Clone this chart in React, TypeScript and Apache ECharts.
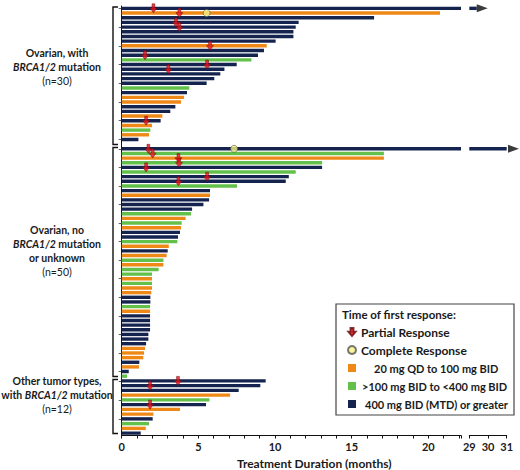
import React, { useEffect, useRef } from 'react';
import * as echarts from 'echarts';

// ---------- data ----------
const DOSE_LABELS = ['20 mg QD to 100 mg BID', '>100 mg BID to <400 mg BID', '400 mg BID (MTD) or greater'];
const DOSE_COLORS = ['#ee8918', '#63c04a', '#15244e'];
const RESPONSE_LABELS = ['Partial Response', 'Complete Response'];

const groupLabels = [
  'Ovarian, with\n{i|BRCA1/2} mutation\n{n|(n=30)}',
  'Ovarian, no\n{i|BRCA1/2} mutation\nor unknown\n{n|(n=50)}',
  'Other tumor types,\nwith {i|BRCA1/2} mutation\n{n|(n=12)}',
];

// dose index: 0 = 20mg QD-100mg BID, 1 = >100 to <400 mg BID, 2 = 400 mg BID or greater
const g1Duration = [29.4, 20.76, 16.46, 11.54, 11.35, 11.2, 11.2, 10.04, 9.46, 9.28, 8.89, 8.46, 7.5, 6.7, 6.43, 6.04, 5.54, 4.41, 4.26, 4.07, 3.87, 3.5, 3.17, 2.65, 2.54, 1.98, 1.87, 1.78, 1.09, 0];
const g1Dose = [2, 0, 2, 2, 2, 2, 2, 2, 0, 2, 2, 1, 2, 2, 2, 2, 2, 1, 2, 0, 0, 2, 2, 0, 2, 0, 1, 0, 2, 2];
const g1Partial = [2.07, 3.76, null, 3.54, 3.76, null, null, null, 5.76, null, 1.52, null, 5.57, 3.04, null, null, null, null, null, null, null, null, null, null, 1.59, null, null, null, null, null];
const g1Complete = [null, 5.54];
const g1Ongoing = [true];

const g2Duration = [31.07, 17.1, 17.1, 13.07, 13.07, 11.35, 10.9, 10.7, 7.52, 5.76, 5.76, 5.7, 5.33, 4.59, 4.52, 4.17, 3.91, 3.87, 3.8, 3.67, 3.63, 3.07, 3.0, 2.93, 2.72, 2.72, 2.41, 1.98, 1.98, 1.98, 1.98, 1.93, 1.87, 1.87, 1.85, 1.85, 1.85, 1.85, 1.85, 1.85, 1.74, 1.74, 1.59, 1.52, 1.46, 1.41, 1.15, 1.13, 0.46, 0.35];
const g2Dose = [2, 1, 0, 1, 2, 1, 2, 2, 1, 2, 0, 2, 2, 2, 1, 0, 1, 0, 2, 2, 1, 0, 2, 0, 1, 0, 1, 1, 0, 1, 0, 0, 2, 2, 1, 0, 2, 2, 2, 2, 2, 2, 2, 0, 0, 0, 2, 0, 2, 1];
const g2Partial = [1.74, 2.02, 3.7, 3.74, 1.59, null, 5.57, 3.7];
const g2Complete = [7.33];
const g2Ongoing = [true];

const g3Duration = [9.39, 9.04, 7.63, 7.07, 5.72, 5.5, 3.8, 2.07, 2.02, 1.78, 1.57, 1.24];
const g3Dose = [2, 2, 2, 0, 1, 2, 0, 0, 2, 1, 0, 2];
const g3Partial = [3.67, 1.85, null, null, null, 1.85];
const g3Complete: (number | null)[] = [];
const g3Ongoing: boolean[] = [];

const xTicksLeft = [0, 5, 10, 15, 20];
const xTicksRight = [29, 30, 31];

// ---------- layout ----------
const FONT = 'Lato, "Open Sans", sans-serif';
const X0 = 121.7;
const BREAK_L = 461;
const BREAK_R = 469.3;
const X_END = 506.7;
const LEFT_MAX = 22.13;
const RIGHT_MIN = 29;
const RIGHT_MAX = 31;
const GROUP_BOUNDS: [number, number][] = [[6, 146.5], [146.5, 378.5], [378.5, 435.5]];
const GROUP_TEXT_Y = [67, 251, 395];

const groups = [
  { duration: g1Duration, dose: g1Dose, partial: g1Partial, complete: g1Complete, ongoing: g1Ongoing },
  { duration: g2Duration, dose: g2Dose, partial: g2Partial, complete: g2Complete, ongoing: g2Ongoing },
  { duration: g3Duration, dose: g3Dose, partial: g3Partial, complete: g3Complete, ongoing: g3Ongoing },
];

const ARROW_DOWN = 'path://M3,0 L7,0 L7,5 L10,5 L5,11 L0,5 L3,5 Z';
const ARROW_RIGHT = 'path://M0,0 L12,4.5 L0,9 Z';

function buildOption() {
  const grid: any[] = [];
  const xAxis: any[] = [];
  const yAxis: any[] = [];
  const series: any[] = [];
  const graphic: any[] = [];

  groups.forEach((g, gi) => {
    const [top, bottom] = GROUP_BOUNDS[gi];
    const isBottom = gi === groups.length - 1;
    const cats = g.duration.map((_, i) => `P${gi + 1}-${i + 1}`);
    for (let s = 0; s < 2; s++) {
      const idx = gi * 2 + s;
      const left = s === 0 ? X0 : BREAK_R;
      const right = s === 0 ? BREAK_L : X_END;
      grid.push({ left, top, width: right - left, height: bottom - top, outerBoundsMode: 'none', containLabel: false });
      xAxis.push({
        type: 'value',
        gridIndex: idx,
        min: s === 0 ? 0 : RIGHT_MIN,
        max: s === 0 ? LEFT_MAX : RIGHT_MAX,
        interval: 1,
        show: isBottom,
        splitLine: { show: false },
        axisLine: { show: true, lineStyle: { color: '#111', width: 1 } },
        axisTick: { show: true, length: 3, lineStyle: { color: '#111', width: 1 } },
        axisLabel: {
          color: '#1a1a1a',
          fontFamily: FONT,
          fontWeight: 'bold',
          fontSize: 11,
          margin: 5,
          lineHeight: 12,
          showMaxLabel: true,
          showMinLabel: true,
          formatter: (v: number) => {
            const list = s === 0 ? xTicksLeft : xTicksRight;
            return list.includes(Math.round(v * 1000) / 1000) ? String(v) : '';
          },
        },
      });
      yAxis.push({
        type: 'category',
        gridIndex: idx,
        data: cats,
        inverse: true,
        show: s === 0,
        axisLine: { show: true, lineStyle: { color: '#111', width: 1 } },
        axisTick: { show: true, alignWithLabel: true, length: 3, lineStyle: { color: '#333', width: 0.8 } },
        axisLabel: { show: false },
        splitLine: { show: false },
      });

      for (let d = 0; d < 3; d++) {
        series.push({
          type: 'bar',
          name: DOSE_LABELS[d],
          xAxisIndex: idx,
          yAxisIndex: idx,
          barWidth: 3.4,
          barGap: '-100%',
          clip: true,
          silent: true,
          itemStyle: { color: DOSE_COLORS[d] },
          data: g.duration.map((v, i) => (g.dose[i] === d && (s === 0 || v >= RIGHT_MIN) ? v : '-')),
        });
      }
    }

    const li = gi * 2;
    series.push({
      type: 'scatter',
      name: RESPONSE_LABELS[0],
      xAxisIndex: li,
      yAxisIndex: li,
      symbol: ARROW_DOWN,
      symbolSize: [7, 9],
      z: 5,
      clip: false,
      itemStyle: { color: '#e8111b', borderColor: '#6a0808', borderWidth: 0.6 },
      data: g.partial.map((v, i) => (v == null ? null : [v, i])).filter((p) => p),
    });
    series.push({
      type: 'scatter',
      name: RESPONSE_LABELS[1],
      xAxisIndex: li,
      yAxisIndex: li,
      symbol: 'circle',
      symbolSize: 7,
      z: 6,
      clip: false,
      itemStyle: { color: '#f6f283', borderColor: '#555', borderWidth: 0.8 },
      data: g.complete.map((v, i) => (v == null ? null : [v, i])).filter((p) => p),
    });
    series.push({
      type: 'scatter',
      name: 'Ongoing',
      xAxisIndex: li + 1,
      yAxisIndex: li + 1,
      symbol: ARROW_RIGHT,
      symbolSize: [11, 8],
      symbolOffset: [5.5, 0],
      z: 6,
      clip: false,
      itemStyle: { color: '#0a0a0a' },
      data: g.ongoing.map((o, i) => (o ? [g.duration[i], i] : null)).filter((p) => p),
    });

    // bracket
    graphic.push({
      type: 'polyline',
      shape: { points: [[118, top + 1], [113, top + 1], [113, bottom - 2], [118, bottom - 2]] },
      style: { stroke: '#111', lineWidth: 1.4, fill: null },
      silent: true,
    });
    graphic.push({
      type: 'text',
      x: 57,
      y: GROUP_TEXT_Y[gi],
      silent: true,
      style: {
        text: groupLabels[gi],
        align: 'center',
        verticalAlign: 'middle',
        fill: '#1a1a1a',
        fontFamily: FONT,
        fontWeight: 'bold',
        fontSize: 10.5,
        lineHeight: 14,
        rich: {
          i: { fontStyle: 'italic', fontWeight: 'bold', fontFamily: FONT, fontSize: 10.5, lineHeight: 14, fill: '#1a1a1a' },
          n: { fontWeight: 'normal', fontFamily: FONT, fontSize: 10.5, lineHeight: 14, fill: '#1a1a1a' },
        },
      },
    });
  });

  // axis title
  graphic.push({
    type: 'text',
    x: (X0 + X_END) / 2,
    y: 463,
    silent: true,
    style: {
      text: 'Treatment Duration (months)',
      align: 'center',
      verticalAlign: 'middle',
      fill: '#1a1a1a',
      fontFamily: FONT,
      fontWeight: 'bold',
      fontSize: 12,
      lineHeight: 13,
    },
  });

  // legend frame + title
  graphic.push({
    type: 'rect',
    z: 1,
    silent: true,
    shape: { x: 336, y: 304, width: 178, height: 111 },
    style: { fill: '#fff', stroke: '#444', lineWidth: 1.2 },
  });
  graphic.push({
    type: 'text',
    z: 2,
    x: 342,
    y: 314,
    silent: true,
    style: {
      text: 'Time of first response:',
      verticalAlign: 'middle',
      fill: '#1a1a1a',
      fontFamily: FONT,
      fontWeight: 'bold',
      fontSize: 11.5,
    },
  });

  const doseNameIdx = (name: string) => DOSE_LABELS.indexOf(name);

  return {
    animation: false,
    backgroundColor: '#fff',
    grid,
    xAxis,
    yAxis,
    series,
    graphic,
    legend: {
      orient: 'vertical',
      left: 342,
      top: 320,
      z: 10,
      itemWidth: 8,
      itemHeight: 8,
      itemGap: 4,
      selectedMode: false,
      data: [
        { name: RESPONSE_LABELS[0], icon: ARROW_DOWN, textStyle: { fontSize: 12 } },
        { name: RESPONSE_LABELS[1], icon: 'circle', textStyle: { fontSize: 12 } },
        { name: DOSE_LABELS[0], icon: 'rect' },
        { name: DOSE_LABELS[1], icon: 'rect' },
        { name: DOSE_LABELS[2], icon: 'rect' },
      ],
      formatter: (name: string) => {
        const d = doseNameIdx(name);
        return d >= 0 ? `{p${d}| }{t|${name}}` : name;
      },
      textStyle: {
        color: '#1a1a1a',
        fontFamily: FONT,
        fontWeight: 'bold',
        fontSize: 11,
        lineHeight: 14,
        rich: {
          p0: { width: 13 },
          p1: { width: 1 },
          p2: { width: 4 },
          t: { fontFamily: FONT, fontWeight: 'bold', fontSize: 11, color: '#1a1a1a' },
        },
      },
    },
  };
}

export default function App() {
  const ref = useRef<HTMLDivElement>(null);
  useEffect(() => {
    if (!ref.current) return;
    const chart = echarts.init(ref.current, null, { renderer: 'svg' });
    chart.setOption(buildOption() as any);
    return () => chart.dispose();
  }, []);
  return <div ref={ref} style={{ position: 'absolute', left: 0, top: 0, width: 520, height: 470 }} />;
}
